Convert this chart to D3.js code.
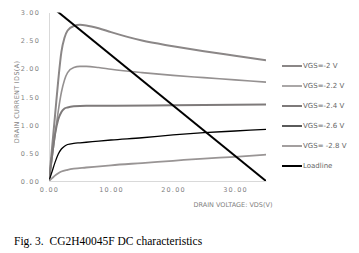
<!doctype html>
<html lang="en">
<head>
  <meta charset="UTF-8">
  <script src="https://cdn.jsdelivr.net/npm/d3@7"></script>
  <title>DC characteristics</title>
  <style>
    body{ margin:0; background:#fff; }
    svg text{ font-family:"DejaVu Sans", sans-serif; }
  </style>
</head>
<body>
  <div class="chart"></div>
  <script>
    // drain voltage (V) / drain current (A)
    const vgs2   = [[0,0],[0.5,0.6],[1,1.2],[1.5,1.8],[2,2.3],[2.5,2.55],[3,2.68],[4,2.76],[5,2.78],[6,2.77],[8,2.72],[10,2.65],[15,2.5],[20,2.4],[25,2.31],[30,2.23],[35,2.15]];
    const vgs22  = [[0,0],[0.5,0.42],[1,0.85],[1.5,1.25],[2,1.58],[2.5,1.8],[3,1.93],[4,2.02],[5,2.04],[6,2.04],[8,2.02],[10,1.99],[15,1.93],[20,1.88],[25,1.84],[30,1.8],[35,1.76]];
    const vgs24  = [[0,0],[0.5,0.45],[1,0.85],[1.5,1.1],[2,1.23],[2.5,1.29],[3,1.31],[4,1.33],[6,1.34],[10,1.34],[20,1.35],[35,1.36]];
    const vgs26  = [[0,0],[0.5,0.17],[1,0.34],[1.5,0.48],[2,0.57],[2.5,0.62],[3,0.65],[4,0.67],[5,0.68],[7,0.7],[10,0.73],[15,0.77],[20,0.82],[25,0.86],[30,0.89],[35,0.92]];
    const vgs28  = [[0,0],[0.5,0.05],[1,0.1],[1.5,0.14],[2,0.17],[3,0.2],[4,0.22],[6,0.24],[10,0.28],[15,0.32],[20,0.36],[25,0.4],[30,0.43],[35,0.47]];
    const loadline = [[0,3.14],[35,0]];
    const seriesNames = ['VGS=-2 V','VGS=-2.2 V','VGS=-2.4 V','VGS=-2.6 V','VGS= -2.8 V','Loadline'];
    const xTicks = [0,10,20,30];
    const yTicks = [0,0.5,1,1.5,2,2.5,3];

    const series = [
      {name: seriesNames[0], data: vgs2,  color:'#8b8787', w:2},
      {name: seriesNames[1], data: vgs22, color:'#959191', w:1.6},
      {name: seriesNames[2], data: vgs24, color:'#7e7a7a', w:2},
      {name: seriesNames[3], data: vgs26, color:'#000',    w:1.3},
      {name: seriesNames[4], data: vgs28, color:'#999595', w:1.8},
      {name: seriesNames[5], data: loadline, color:'#000', w:2}
    ];

    const bx = {w:359, h:253};
    const margin = {top:12.5, left:49};
    const [width, height] = [217, 168.5];

    const root = d3.select('.chart').append('svg')
      .attr('width', bx.w).attr('height', bx.h);
    const svg = root.append('g').attr('transform', `translate(${margin.left} ${margin.top})`);

    const x = d3.scaleLinear().domain([0,35]).range([0,width]);
    const y = d3.scaleLinear().domain([0,3]).range([height,0]);

    svg.append('clipPath').attr('id','plot').append('rect').attr('width', width).attr('height', height);

    // axes
    const xAxis = svg.append('g').attr('transform', `translate(0,${height})`)
      .call(d3.axisBottom(x).tickValues(xTicks).tickSize(0).tickPadding(8).tickFormat(d3.format('.2f')));
    const yAxis = svg.append('g')
      .call(d3.axisLeft(y).tickValues(yTicks).tickSize(0).tickPadding(9).tickFormat(d3.format('.2f')));
    [xAxis, yAxis].forEach(a => {
      a.select('.domain').attr('stroke', '#d9d9d9');
      a.selectAll('text').attr('fill', '#7f7f7f').style('font-size', '6.5px').style('letter-spacing', '1.2px').style('font-family', '"DejaVu Sans", sans-serif');
    });
    yAxis.selectAll('text').attr('dy', '0.35em');
    xAxis.selectAll('text').attr('dy', '0.45em');

    const line = d3.line().x(d => x(d[0])).y(d => y(d[1])).curve(d3.curveMonotoneX);
    svg.append('g').attr('clip-path', 'url(#plot)')
      .selectAll('path').data(series).enter().append('path')
      .attr('d', d => line(d.data))
      .attr('fill', 'none')
      .attr('stroke', d => d.color)
      .attr('stroke-width', d => d.w)
      .attr('stroke-linejoin', 'round');

    // axis titles
    root.append('text').attr('x', 233).attr('y', 207).attr('text-anchor', 'middle')
      .attr('fill', '#7f7f7f').style('font-size', '6.5px').text('DRAIN VOLTAGE: VDS(V)');
    root.append('text').attr('transform', 'translate(19 102) rotate(-90)').attr('text-anchor', 'middle')
      .attr('fill', '#7f7f7f').style('font-size', '6.5px').style('letter-spacing', '0.3px').text('DRAIN CURRENT IDS(A)');

    // legend
    const leg = root.append('g').selectAll('g').data(series).enter().append('g')
      .attr('transform', (d, i) => `translate(282 ${66 + i * 20})`);
    leg.append('line').attr('x2', 20).attr('stroke', d => d.color).attr('stroke-width', d => d.w);
    leg.append('text').attr('x', 21).attr('dy', '0.35em').attr('fill', '#666')
      .style('font-size', '7px').text(d => d.name);

    // caption
    root.append('text').attr('x', 14).attr('y', 245)
      .style('font-family', '"Liberation Serif", "Times New Roman", serif').style('font-size', '11.5px')
      .attr('fill', '#000').attr('xml:space', 'preserve').text('Fig. 3.  CG2H40045F DC characteristics');
  </script>
</body>
</html>
